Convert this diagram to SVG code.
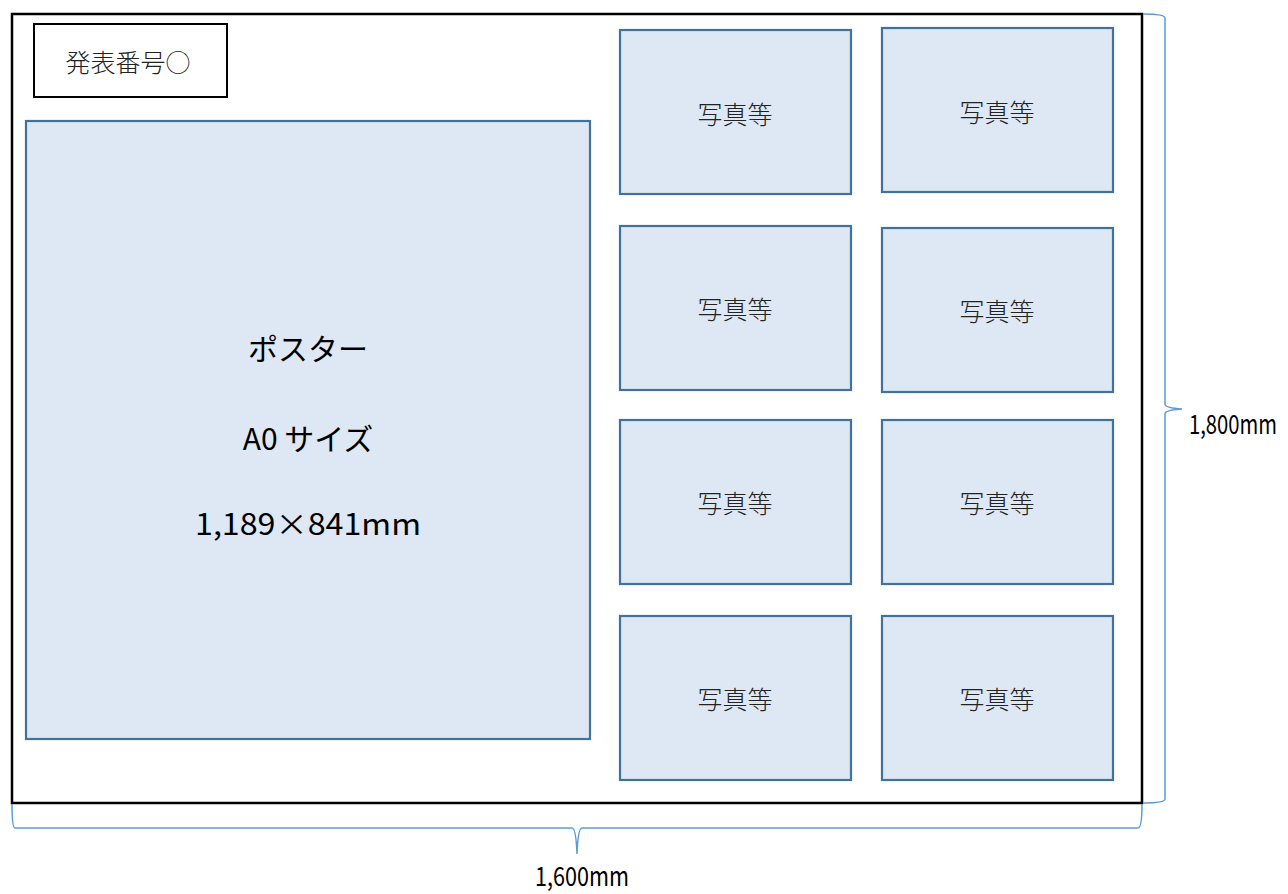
<svg xmlns="http://www.w3.org/2000/svg" width="1288" height="894" viewBox="0 0 1288 894">
<style>
.photo{fill:#dde8f4;stroke:#41719c;stroke-width:2.2}
.pt{font-family:"Noto Sans CJK JP",sans-serif;font-size:25px;font-weight:300;fill:#222;text-anchor:middle;dominant-baseline:central}
.pp{font-family:"Noto Sans CJK JP",sans-serif;font-size:30px;fill:#000;text-anchor:middle;dominant-baseline:central}
.dim{font-family:"Noto Sans CJK JP",sans-serif;font-size:22px;fill:#000}
.brace{fill:none;stroke:#5b9bd5;stroke-width:1.5}
</style>
<rect width="1288" height="894" fill="#fff"/>
<g id="board"><rect x="12" y="14" width="1130" height="789" fill="#fff" stroke="#000" stroke-width="2.5"/></g>
<g id="number"><rect x="34" y="24" width="193" height="73" fill="#fff" stroke="#000" stroke-width="2"/><text class="pt" x="128" y="61">発表番号○</text></g>
<g id="poster"><rect class="photo" x="26" y="121" width="564" height="618"/>
<text class="pp" x="308" y="347">ポスター</text>
<text class="pp" x="308" y="437">A0 サイズ</text>
<text class="pp" x="308" y="522" textLength="226" lengthAdjust="spacingAndGlyphs">1,189×841mm</text></g>
<g id="p1"><rect class="photo" x="620" y="30" width="231" height="164"/><text class="pt" x="735" y="113">写真等</text></g>
<g id="p2"><rect class="photo" x="882" y="28" width="231" height="164"/><text class="pt" x="997" y="111">写真等</text></g>
<g id="p3"><rect class="photo" x="620" y="226" width="231" height="164"/><text class="pt" x="735" y="308">写真等</text></g>
<g id="p4"><rect class="photo" x="882" y="228" width="231" height="164"/><text class="pt" x="997" y="310">写真等</text></g>
<g id="p5"><rect class="photo" x="620" y="420" width="231" height="164"/><text class="pt" x="735" y="502">写真等</text></g>
<g id="p6"><rect class="photo" x="882" y="420" width="231" height="164"/><text class="pt" x="997" y="502">写真等</text></g>
<g id="p7"><rect class="photo" x="620" y="616" width="231" height="164"/><text class="pt" x="735" y="698">写真等</text></g>
<g id="p8"><rect class="photo" x="882" y="616" width="231" height="164"/><text class="pt" x="997" y="698">写真等</text></g>
<g id="connectors">
<path class="brace" d="M1143,14 Q1165,14 1165,18 L1165,404 Q1165,408 1182,409 Q1165,410 1165,414 L1165,799 Q1165,803 1143,803"/>
<path class="brace" d="M12,804 Q12,828 15,828 L572,828 Q576,828 577,854 Q578,828 582,828 L1138,828 Q1142,828 1142,804"/>
</g>
<text class="dim" transform="translate(1189,434) scale(1,1.22)" textLength="88" lengthAdjust="spacingAndGlyphs">1,800mm</text>
<text class="dim" transform="translate(535,886) scale(1,1.22)" textLength="94" lengthAdjust="spacingAndGlyphs">1,600mm</text>
</svg>
